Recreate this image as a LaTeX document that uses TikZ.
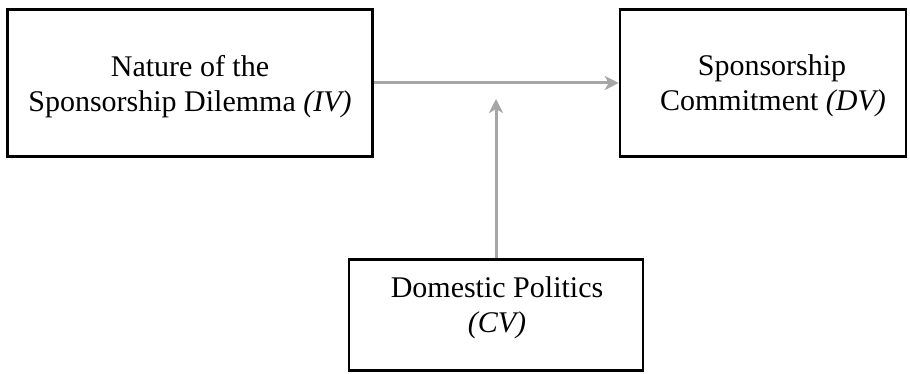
\documentclass[tikz,border=0pt]{standalone}
\usepackage{fontspec}
\setmainfont{Liberation Serif}
\usetikzlibrary{arrows.meta}
\begin{document}
\begin{tikzpicture}[x=1pt,y=-1pt,
  varbox/.style={draw=black,line width=2.6pt,inner sep=0pt},
  txt/.style={anchor=base,inner sep=0pt,font=\fontsize{30}{35}\selectfont},
  link/.style={draw=black!35,line width=3pt,-{Stealth[length=14pt,width=14pt,inset=4pt]}}]
\useasboundingbox (0,0) rectangle (910,374);
\node[varbox,minimum width=365pt,minimum height=147pt] (iv) at (190,83) {};
\node[varbox,minimum width=286pt,minimum height=147pt] (dv) at (763,83) {};
\node[varbox,minimum width=294pt,minimum height=111pt] (cv) at (496,315) {};
\node[txt] (iv1) at (190,77) {Nature of the};
\node[txt] (iv2) at (190,112) {Sponsorship Dilemma \textit{(IV)}};
\node[txt] (dv1) at (772,76) {Sponsorship};
\node[txt] (dv2) at (773,111) {Commitment \textit{(DV)}};
\node[txt] (cv1) at (497,297) {Domestic Politics};
\node[txt] (cv2) at (497,332) {\textit{(CV)}};
\coordinate (mid) at (496,83);
\draw[link] (iv.east) -- (dv.west);
\draw[link,shorten >=16pt] (cv.north) -- (mid);
\end{tikzpicture}
\end{document}
